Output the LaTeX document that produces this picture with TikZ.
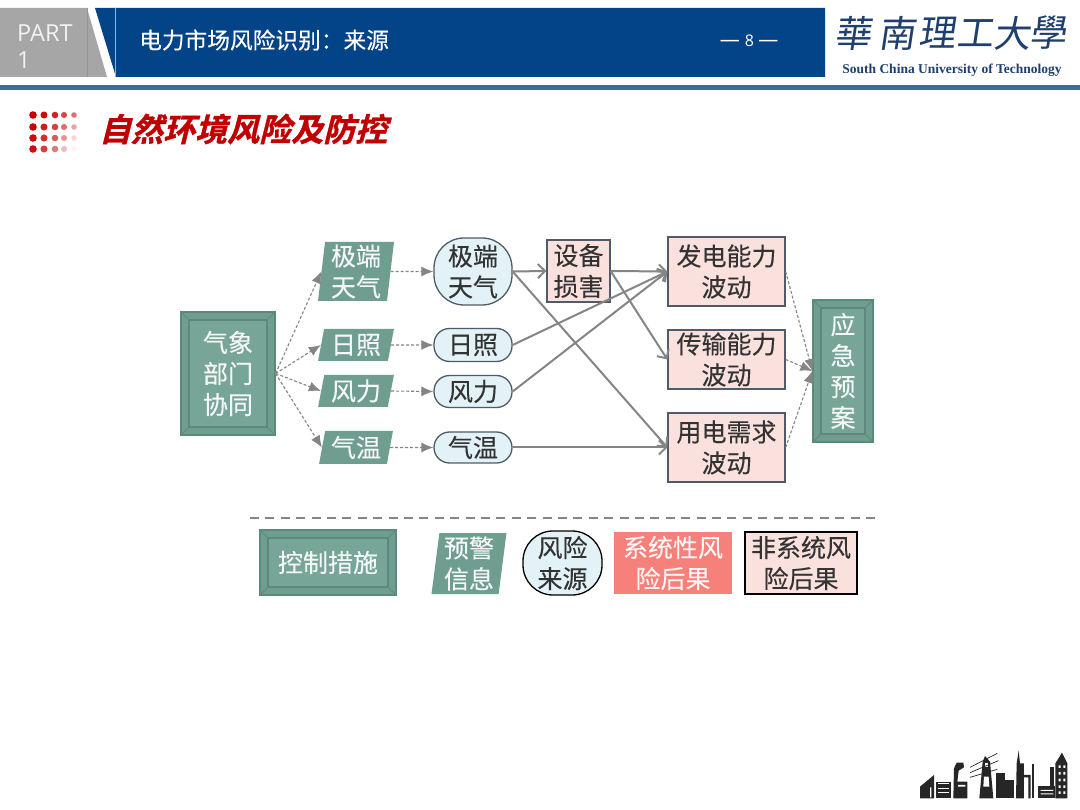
\documentclass[tikz,border=0pt]{standalone}
\usepackage{fontspec}
\setmainfont[FakeBold=0.25]{Noto Sans CJK SC}
\newfontfamily\partfont{Open Sans}
\newfontfamily\titlefont[FakeSlant=0.25,FakeBold=1.2]{Noto Sans CJK SC Bold}
\newfontfamily\logofont[FakeSlant=0.15]{Noto Sans CJK TC}
\newfontfamily\logoen{Liberation Serif}
\usetikzlibrary{arrows.meta,calc,shapes.geometric}
\definecolor{hdblue}{HTML}{034488}
\definecolor{rulebl}{HTML}{41699C}
\definecolor{logobl}{HTML}{1F3F6E}
\definecolor{titred}{HTML}{C00000}
\definecolor{ctrlgr}{HTML}{6F9E90}
\definecolor{bevelfc}{HTML}{77A597}
\definecolor{bevelln}{HTML}{5A8A7C}
\definecolor{pinkbx}{HTML}{FBE1DD}
\definecolor{sysred}{HTML}{F6807A}
\definecolor{bluebx}{HTML}{E3F2F7}
\definecolor{edgegr}{HTML}{4F5B68}
\definecolor{arrgray}{HTML}{858585}
\definecolor{txtd}{HTML}{333333}
\tikzset{
  txt/.style={font=\fontsize{25}{31}\selectfont,align=center,inner sep=0pt},
  bevel/.style={txt,fill=ctrlgr,draw=bevelln,line width=1.2pt,text=white!92!ctrlgr,
    path picture={
      \draw[bevelln,fill=bevelfc,line width=1.2pt]
        ($(path picture bounding box.north west)+(8,8)$) rectangle
        ($(path picture bounding box.south east)+(-8,-8)$);
      \draw[bevelln,line width=.8pt]
        (path picture bounding box.north west) -- ++(8,8)
        (path picture bounding box.north east) -- ++(-8,8)
        (path picture bounding box.south west) -- ++(8,-8)
        (path picture bounding box.south east) -- ++(-8,-8);
    }},
  warn/.style={txt,trapezium,trapezium stretches=true,fill=ctrlgr,text=white!92!ctrlgr,
    trapezium left angle=#1,trapezium right angle=180-#1},
  warn/.default=78,
  src/.style={txt,fill=bluebx,draw=edgegr,line width=1.3pt,rounded corners=15.5pt,text=txtd},
  nonsys/.style={txt,fill=pinkbx,draw=edgegr,line width=1.3pt,text=txtd},
  dotarr/.style={arrgray,densely dashed,line width=1.1pt,-{Latex[length=12pt,width=10pt]}},
  solarr/.style={arrgray,line width=2pt,-{Straight Barb[length=7pt,width=14pt]}}
}
\begin{document}
\begin{tikzpicture}[x=1pt,y=-1pt]
\useasboundingbox[fill=white] (0,0) rectangle (1080,810);
% header
\fill[black!35] (0,8) -- (87,8) -- (107,77) -- (0,77) -- cycle;
\draw[black!42,line width=.6pt] (87,8) -- (87,77);
\fill[hdblue] (95,8) -- (825,8) -- (825,77) -- (116,77) -- cycle;
\draw[white!60!hdblue,line width=.5pt] (115,8) -- (115,77);
\fill[rulebl] (0,85) rectangle (1080,90);
\node[font=\partfont\fontsize{23.5}{27}\selectfont,text=white!95!black,align=left,anchor=west,inner sep=0pt] (part) at (17,47) {PART\\1};
\node[font=\fontsize{22.7}{27}\selectfont,text=white,anchor=west,inner sep=0pt] (head) at (139,40) {电力市场风险识别：来源};
\node[font=\partfont\fontsize{20}{22}\selectfont,text=white,inner sep=0pt] (pagenum) at (749,41) {— \fontsize{16}{20}\selectfont 8 \fontsize{20}{22}\selectfont—};
% logo
\foreach \ch/\px in {華/853,南/897,理/937,工/975,大/1012,學/1048}
  \node[font=\logofont\fontsize{37}{40}\selectfont,text=logobl,inner sep=0pt] (logo\px) at (\px,33) {\ch};
\node[font=\logoen\bfseries\fontsize{13.5}{15}\selectfont,text=logobl,inner sep=0pt] (logoen) at (952,70) {South China University of Technology};
% title
\foreach \c/\px in {0/33,1/44,2/55,3/64,4/74}
  \foreach \r/\py in {0/115,1/127,2/138,3/149}{
    \pgfmathsetmacro{\op}{max(0.05,1-0.03*\c-0.02*\r-0.045*\c*\r-0.02*\c*\c)}
    \pgfmathsetmacro{\rad}{3.8-0.25*\c}
    \fill[titred!85!red,opacity=\op] (\px,\py) circle (\rad);
  }
\node[font=\titlefont\fontsize{32}{36}\selectfont,text=titred,anchor=west,inner sep=0pt] (title) at (99,129) {自然环境风险及防控};
% left column
\node[bevel,minimum width=94,minimum height=123] (qx) at (228,373.5) {气象\\部门\\协同};
\node[warn=84,minimum width=76,minimum height=59] (pjd) at (356,271.5) {极端\\天气};
\node[warn=78,minimum width=76,minimum height=32] (prz) at (356,345) {日照};
\node[warn=78,minimum width=76,minimum height=32] (pfl) at (356,391) {风力};
\node[warn=78,minimum width=74,minimum height=33] (pqw) at (356,447.5) {气温};
\node[src,minimum width=78,minimum height=67,rounded corners=30pt] (rjd) at (473,271.5) {极端\\天气};
\node[src,minimum width=78,minimum height=33] (rrz) at (473,345) {日照};
\node[src,minimum width=78,minimum height=32] (rfl) at (473,391.5) {风力};
\node[src,minimum width=78,minimum height=31] (rqw) at (473,447.5) {气温};
% right column
\node[nonsys,minimum width=63,minimum height=62] (sb) at (578.5,271) {设备\\损害};
\node[nonsys,minimum width=117,minimum height=69] (fd) at (726.5,271.5) {发电能力\\波动};
\node[nonsys,minimum width=117,minimum height=59] (cs) at (726.5,359.5) {传输能力\\波动};
\node[nonsys,minimum width=117,minimum height=69] (yd) at (726.5,447.5) {用电需求\\波动};
\node[bevel,minimum width=60,minimum height=142] (yj) at (843,371) {应\\急\\预\\案};
% dashed arrows
\foreach \p in {pjd,prz,pfl,pqw}
  \draw[dotarr] (qx.east) -- (\p.west);
\draw[dotarr] (pjd.east) -- (rjd.west);
\draw[dotarr] (prz.east) -- (rrz.west);
\draw[dotarr] (pfl.east) -- (rfl.west);
\draw[dotarr] (pqw.east) -- (rqw.west);
\foreach \p in {fd,cs,yd}
  \draw[dotarr] (\p.east) -- (yj.west);
% solid arrows
\draw[solarr] (rjd.east) -- (sb.west);
\draw[solarr] (rjd.east) -- (yd.west);
\draw[solarr] (rrz.east) -- (fd.west);
\draw[solarr] (rfl.east) -- (fd.west);
\draw[solarr] (rqw.east) -- (yd.west);
\draw[solarr] (sb.east) -- (fd.west);
\draw[solarr] (sb.east) -- (cs.west);
% legend
\draw[arrgray,line width=1.3pt,dash pattern=on 9pt off 6.4pt] (250,518) -- (875,518);
\node[bevel,minimum width=136,minimum height=65] (lgkz) at (328,562.5) {控制措施};
\node[warn=83,minimum width=75,minimum height=61] (lgyj) at (469,563.5) {预警\\信息};
\node[src,minimum width=79,minimum height=64,rounded corners=30pt,draw=black] (lgfx) at (562.5,563) {风险\\来源};
\node[txt,fill=sysred,text=white!92!sysred,minimum width=118,minimum height=62] (lgxt) at (673,563) {系统性风\\险后果};
\node[nonsys,draw=black,minimum width=112,minimum height=62] (lgfxt) at (801,563) {非系统风\\险后果};
% skyline
\begin{scope}[shift={(910,740)},x=.3333pt,y=-.3333pt,black!85]
\fill (30,175) -- (30,140) -- (72,105) -- (72,175) -- cycle;
\fill (78,125) rectangle (122,175);
\fill (130,175) -- (132,85) -- (140,68) -- (160,68) -- (162,82) -- (146,92) -- (142,125) -- (172,125) -- (172,175) -- cycle;
\foreach \wy in {130,143,156}
  \fill[white] (84,\wy) rectangle (118,\wy+3);
\fill[white] (60,142) rectangle (64,172) (144,135) rectangle (166,140);
\fill (225,48) -- (240,65) -- (250,175) -- (208,175) -- (218,65) -- cycle;
\fill[white] (222,110) -- (236,110) -- (238,140) -- (220,140) -- cycle;
\fill[white] (225,70) rectangle (233,80);
\draw[line width=.7pt] (180,82) -- (262,40) (180,98) -- (265,62) (180,112) -- (262,88);
\fill (258,100) rectangle (285,175);
\fill (285,120) rectangle (312,175);
\fill (318,175) -- (320,70) -- (326,32) -- (330,70) -- (342,70) -- (342,175) -- cycle;
\fill (342,105) rectangle (362,112) (355,105) rectangle (362,175);
\fill (365,72) rectangle (372,175);
\fill (384,138) rectangle (436,175);
\fill (420,82) rectangle (431,138);
\fill (436,70) -- (456,38) -- (472,70) -- (472,175) -- (436,175) -- cycle;
\foreach \wy in {76,96,116,136,154}
  \fill[white] (446,\wy) rectangle (452,\wy+8) (460,\wy) rectangle (466,\wy+8);
\fill[white] (392,150) rectangle (430,153) (392,160) rectangle (430,163);
\end{scope}
\end{tikzpicture}
\end{document}
